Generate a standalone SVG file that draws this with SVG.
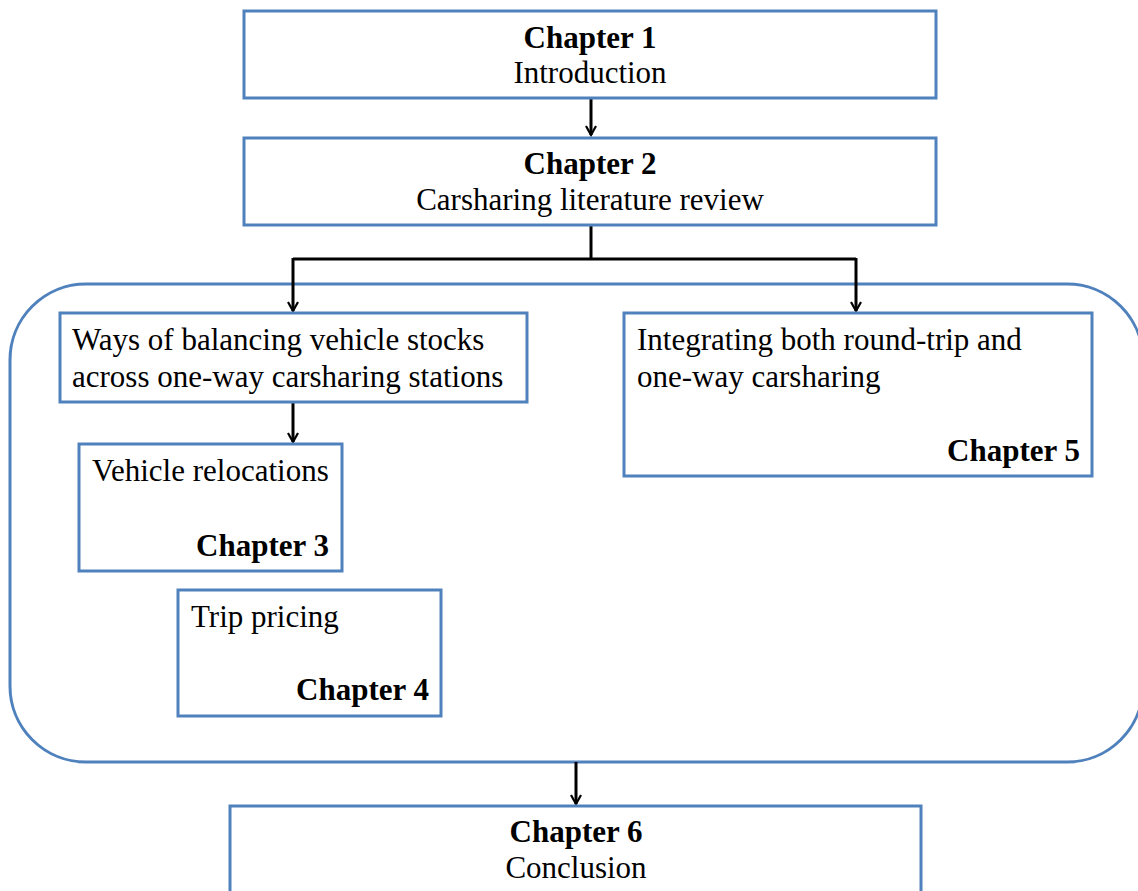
<svg xmlns="http://www.w3.org/2000/svg" width="1138" height="891" viewBox="0 0 1138 891">
<defs>
<style>
.box{fill:#ffffff;stroke:#4f81bd;stroke-width:3}
.con{fill:none;stroke:#000000;stroke-width:3}
text{font-family:"Liberation Serif","Times New Roman",serif;font-size:31px;fill:#000000}
.b{font-weight:bold}
.c{text-anchor:middle}
.r{text-anchor:end}
</style>
<marker id="arr" viewBox="0 0 12 12" refX="10" refY="6" markerWidth="12" markerHeight="12" markerUnits="userSpaceOnUse" orient="auto">
<path d="M1,1 L10,6 L1,11" fill="none" stroke="#000" stroke-width="2.2"/>
</marker>
</defs>
<rect width="1138" height="891" fill="#ffffff"/>
<g id="group-container">
<rect class="box" x="10" y="284" width="1133" height="478" rx="76" ry="76"/>
</g>
<g id="connectors">
<line class="con" x1="591" y1="98" x2="591" y2="135" marker-end="url(#arr)"/>
<polyline class="con" points="591,225 591,259"/>
<polyline class="con" points="293,259 856,259"/>
<line class="con" x1="293" y1="258" x2="293" y2="311" marker-end="url(#arr)"/>
<line class="con" x1="856" y1="258" x2="856" y2="311" marker-end="url(#arr)"/>
<line class="con" x1="293" y1="402" x2="293" y2="442" marker-end="url(#arr)"/>
<line class="con" x1="576" y1="762" x2="576" y2="804" marker-end="url(#arr)"/>
</g>
<g id="node-ch1">
<rect class="box" x="244" y="11" width="692" height="87"/>
<text class="b c" x="590" y="48">Chapter 1</text>
<text class="c" x="590" y="83">Introduction</text>
</g>
<g id="node-ch2">
<rect class="box" x="244" y="138" width="692" height="87"/>
<text class="b c" x="590" y="174">Chapter 2</text>
<text class="c" x="590" y="210">Carsharing literature review</text>
</g>
<g id="node-ways">
<rect class="box" x="60" y="313" width="467" height="89"/>
<text x="72" y="350">Ways of balancing vehicle stocks</text>
<text x="72" y="387">across one-way carsharing stations</text>
</g>
<g id="node-ch3">
<rect class="box" x="79" y="444" width="263" height="127"/>
<text x="92" y="481">Vehicle relocations</text>
<text class="b r" x="329" y="556">Chapter 3</text>
</g>
<g id="node-ch4">
<rect class="box" x="178" y="590" width="263" height="126"/>
<text x="191" y="627">Trip pricing</text>
<text class="b r" x="429" y="700">Chapter 4</text>
</g>
<g id="node-ch5">
<rect class="box" x="624" y="313" width="468" height="163"/>
<text x="637" y="350">Integrating both round-trip and</text>
<text x="637" y="387">one-way carsharing</text>
<text class="b r" x="1080" y="461">Chapter 5</text>
</g>
<g id="node-ch6">
<rect class="box" x="230" y="806" width="691" height="100"/>
<text class="b c" x="576" y="842">Chapter 6</text>
<text class="c" x="576" y="878">Conclusion</text>
</g>
</svg>
